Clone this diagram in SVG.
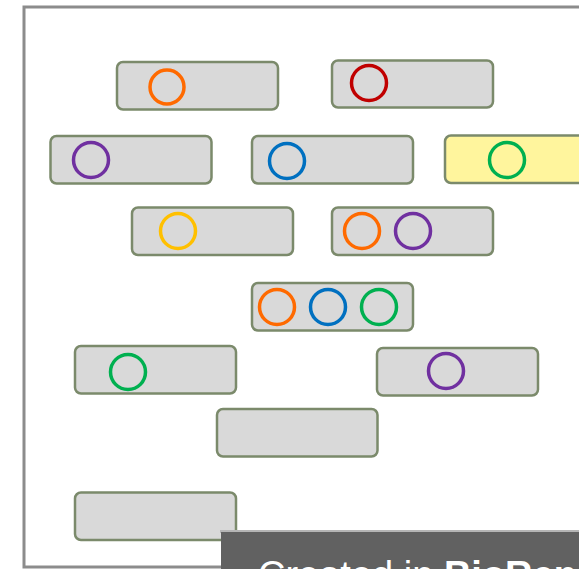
<svg xmlns="http://www.w3.org/2000/svg" width="579" height="569" viewBox="0 0 579 569">
<style>
.box{fill:#d9d9d9;stroke:#7b8a6b;stroke-width:2.5}
.yel{fill:#fff59d;stroke:#7b8a6b;stroke-width:2.5}
.c{fill:none;stroke-width:3.5}
.or{stroke:#ff6a00}.rd{stroke:#c00000}.pu{stroke:#7030a0}.bl{stroke:#0070c0}.gr{stroke:#00b050}.yl{stroke:#ffc000}
</style>
<rect width="579" height="569" fill="#ffffff"/>
<g id="frame">
<rect x="24" y="7" width="600" height="560" fill="none" stroke="#8c8c8c" stroke-width="3"/>
</g>
<g id="n1"><rect class="box" x="117" y="62" width="161" height="47.5" rx="6"/><circle class="c or" cx="167" cy="87" r="17"/></g>
<g id="n2"><rect class="box" x="332" y="60.5" width="161" height="47" rx="6"/><circle class="c rd" cx="369" cy="83" r="17.5"/></g>
<g id="n3"><rect class="box" x="50.5" y="136" width="161" height="47.5" rx="6"/><circle class="c pu" cx="91" cy="160" r="17.5"/></g>
<g id="n4"><rect class="box" x="252" y="136" width="161" height="47.5" rx="6"/><circle class="c bl" cx="287" cy="161" r="17.5"/></g>
<g id="n5"><rect class="yel" x="445" y="135.5" width="161" height="47.5" rx="6"/><circle class="c gr" cx="507" cy="160" r="17.5"/></g>
<g id="n6"><rect class="box" x="132" y="207.5" width="161" height="47.5" rx="6"/><circle class="c yl" cx="178" cy="231" r="17.5"/></g>
<g id="n7"><rect class="box" x="332" y="207.5" width="161" height="47.5" rx="6"/><circle class="c or" cx="362" cy="231" r="17.5"/><circle class="c pu" cx="413" cy="231" r="17.5"/></g>
<g id="n8"><rect class="box" x="252" y="283" width="161" height="47.5" rx="6"/><circle class="c or" cx="277" cy="307" r="17.5"/><circle class="c bl" cx="328" cy="307" r="17.5"/><circle class="c gr" cx="379" cy="307" r="17.5"/></g>
<g id="n9"><rect class="box" x="75" y="346" width="161" height="47.5" rx="6"/><circle class="c gr" cx="128" cy="372" r="17.5"/></g>
<g id="n10"><rect class="box" x="377" y="348" width="161" height="47.5" rx="6"/><circle class="c pu" cx="446" cy="371" r="17.5"/></g>
<g id="n11"><rect class="box" x="217" y="409" width="160.5" height="47.5" rx="6"/></g>
<g id="n12"><rect class="box" x="75" y="492.5" width="161" height="47.5" rx="6"/></g>
<g id="connectors"></g>
<g id="banner">
<rect x="220" y="530" width="370" height="3" fill="#b5b5b5"/>
<rect x="221" y="532" width="370" height="40" fill="#616161"/>
<text x="258" y="588" font-family="Liberation Sans, Arial, sans-serif" font-size="38" fill="#ffffff">Created in <tspan font-weight="bold">BioRender</tspan></text>
</g>
</svg>
